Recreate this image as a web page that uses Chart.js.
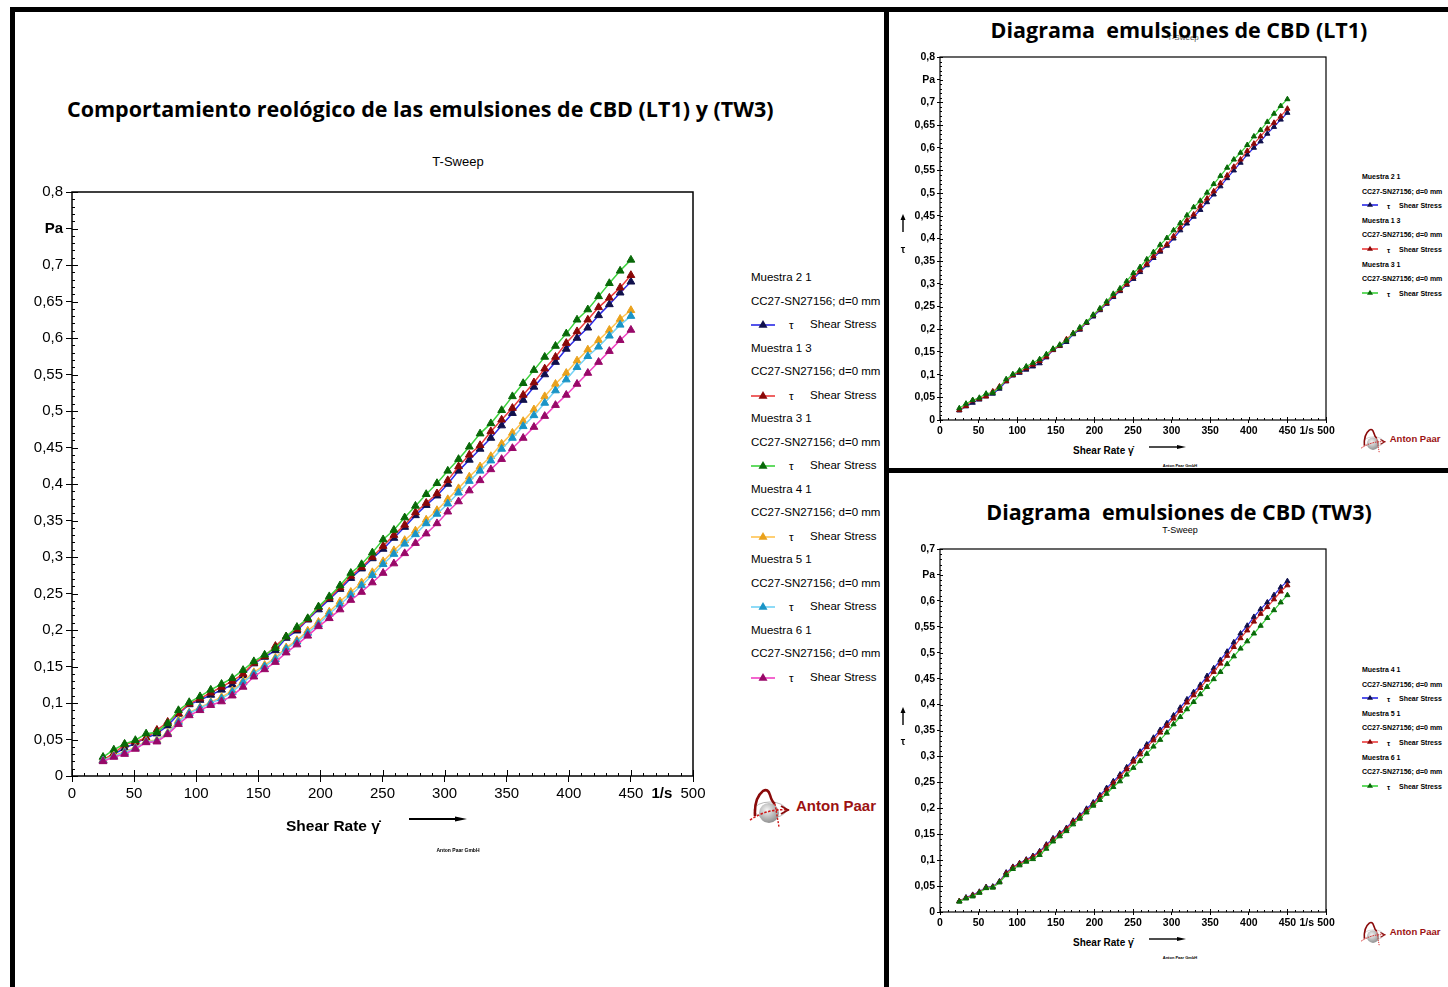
<!DOCTYPE html>
<html>
<head>
<meta charset="utf-8">
<title>Comportamiento reológico de las emulsiones de CBD</title>
<script src="https://cdn.jsdelivr.net/npm/chart.js"></script>
<style>
  body { margin: 0; width: 1448px; height: 987px; position: relative; overflow: hidden; background: #fff;
         font-family: "Liberation Sans", Arial, sans-serif; color: #000; }
  .bar { position: absolute; background: #000; }
  .t { position: absolute; white-space: nowrap; line-height: 1; }
  .title { font-family: "Open Sans", sans-serif; font-weight: bold; font-size: 21.5px; }
  .c { transform: translate(-50%, -50%); }
  .l { transform: translateY(-50%); }
  canvas { position: absolute; }
  svg { position: absolute; overflow: visible; }
</style>
</head>
<body>
<div class="bar" style="left:10px;top:7px;width:1438px;height:5px"></div>
<div class="bar" style="left:10px;top:7px;width:5px;height:980px"></div>
<div class="bar" style="left:884px;top:7px;width:5px;height:980px"></div>
<div class="bar" style="left:884px;top:468px;width:564px;height:5px"></div>

<div class="t title l" style="left:67px;top:109px">Comportamiento reológico de las emulsiones de CBD (LT1) y (TW3)</div>
<div class="t c" style="left:458px;top:161px;font-size:13px">T-Sweep</div>
<div class="t c" style="left:1183px;top:38px;font-size:8px;color:#555">T-Sweep</div>
<div class="t title c" style="left:1179px;top:30px">Diagrama&nbsp; emulsiones de CBD (LT1)</div>
<div class="t title c" style="left:1179px;top:512px">Diagrama&nbsp; emulsiones de CBD (TW3)</div>
<div class="t c" style="left:1180px;top:530px;font-size:9px">T-Sweep</div>

<canvas id="mainChart" width="700" height="640" style="left:15px;top:180px"></canvas>
<canvas id="lt1Chart" width="445" height="395" style="left:895px;top:45px"></canvas>
<canvas id="tw3Chart" width="445" height="395" style="left:895px;top:537px"></canvas>

<div id="extras"></div>

<script>
// shear rate (1/s) of the 50 measuring points
const shearRate = [25, 33.67, 42.35, 51.02, 59.69, 68.37, 77.04, 85.71, 94.39, 103.06,
  111.73, 120.41, 129.08, 137.76, 146.43, 155.1, 163.78, 172.45, 181.12, 189.8,
  198.47, 207.14, 215.82, 224.49, 233.16, 241.84, 250.51, 259.18, 267.86, 276.53,
  285.2, 293.88, 302.55, 311.22, 319.9, 328.57, 337.24, 345.92, 354.59, 363.27,
  371.94, 380.61, 389.29, 397.96, 406.63, 415.31, 423.98, 432.65, 441.33, 450];

// shear stress (Pa)
const muestra21 = [0.021, 0.030, 0.038, 0.045, 0.052, 0.058, 0.069, 0.085, 0.098, 0.104,
  0.111, 0.118, 0.125, 0.138, 0.154, 0.163, 0.172, 0.189, 0.199, 0.214,
  0.228, 0.242, 0.256, 0.271, 0.284, 0.298, 0.311, 0.326, 0.341, 0.357,
  0.371, 0.384, 0.400, 0.418, 0.433, 0.448, 0.463, 0.480, 0.497, 0.515,
  0.533, 0.550, 0.567, 0.585, 0.600, 0.614, 0.631, 0.646, 0.662, 0.677];
const muestra13 = [0.022, 0.031, 0.043, 0.047, 0.052, 0.063, 0.074, 0.086, 0.099, 0.106,
  0.114, 0.122, 0.130, 0.140, 0.155, 0.164, 0.178, 0.191, 0.201, 0.215,
  0.231, 0.244, 0.258, 0.274, 0.286, 0.300, 0.315, 0.330, 0.344, 0.361,
  0.374, 0.387, 0.405, 0.424, 0.440, 0.453, 0.472, 0.488, 0.504, 0.522,
  0.539, 0.558, 0.574, 0.593, 0.609, 0.625, 0.642, 0.655, 0.669, 0.686];
const muestra31 = [0.026, 0.036, 0.044, 0.049, 0.058, 0.060, 0.072, 0.090, 0.101, 0.109,
  0.118, 0.126, 0.134, 0.145, 0.157, 0.166, 0.175, 0.191, 0.204, 0.216,
  0.232, 0.246, 0.261, 0.278, 0.290, 0.306, 0.324, 0.337, 0.354, 0.370,
  0.386, 0.401, 0.418, 0.434, 0.451, 0.469, 0.483, 0.501, 0.520, 0.538,
  0.556, 0.574, 0.589, 0.606, 0.625, 0.639, 0.657, 0.675, 0.692, 0.707];
const muestra41 = [0.021, 0.028, 0.033, 0.039, 0.048, 0.049, 0.059, 0.076, 0.087, 0.094,
  0.101, 0.108, 0.117, 0.130, 0.142, 0.152, 0.162, 0.176, 0.186, 0.199,
  0.211, 0.225, 0.239, 0.252, 0.265, 0.279, 0.294, 0.309, 0.323, 0.336,
  0.351, 0.364, 0.379, 0.394, 0.410, 0.424, 0.438, 0.455, 0.470, 0.486,
  0.502, 0.520, 0.537, 0.552, 0.569, 0.584, 0.597, 0.611, 0.626, 0.638];
const muestra51 = [0.021, 0.027, 0.032, 0.038, 0.047, 0.048, 0.058, 0.074, 0.086, 0.093,
  0.100, 0.106, 0.115, 0.128, 0.140, 0.150, 0.160, 0.174, 0.184, 0.196,
  0.208, 0.222, 0.235, 0.248, 0.261, 0.275, 0.290, 0.304, 0.318, 0.331,
  0.346, 0.359, 0.373, 0.388, 0.404, 0.418, 0.432, 0.448, 0.463, 0.479,
  0.494, 0.511, 0.528, 0.543, 0.560, 0.575, 0.588, 0.603, 0.618, 0.630];
const muestra61 = [0.020, 0.026, 0.030, 0.037, 0.046, 0.047, 0.057, 0.071, 0.083, 0.090,
  0.097, 0.102, 0.110, 0.122, 0.136, 0.146, 0.156, 0.169, 0.180, 0.192,
  0.205, 0.216, 0.228, 0.241, 0.252, 0.265, 0.278, 0.291, 0.305, 0.319,
  0.332, 0.346, 0.362, 0.376, 0.391, 0.405, 0.420, 0.434, 0.449, 0.463,
  0.478, 0.493, 0.508, 0.522, 0.537, 0.552, 0.567, 0.582, 0.597, 0.611];

const xTicks = [0, 50, 100, 150, 200, 250, 300, 350, 400, 450, 475, 500];
const xTickLabels = ['0', '50', '100', '150', '200', '250', '300', '350', '400', '450', '1/s', '500'];
const yTicksLT1 = [0, 0.05, 0.1, 0.15, 0.2, 0.25, 0.3, 0.35, 0.4, 0.45, 0.5, 0.55, 0.6, 0.65, 0.7, 0.75, 0.8];
const yTickLabelsLT1 = ['0', '0,05', '0,1', '0,15', '0,2', '0,25', '0,3', '0,35', '0,4', '0,45',
  '0,5', '0,55', '0,6', '0,65', '0,7', 'Pa', '0,8'];
const yTicksTW3 = [0, 0.05, 0.1, 0.15, 0.2, 0.25, 0.3, 0.35, 0.4, 0.45, 0.5, 0.55, 0.6, 0.65, 0.7];
const yTickLabelsTW3 = ['0', '0,05', '0,1', '0,15', '0,2', '0,25', '0,3', '0,35', '0,4', '0,45',
  '0,5', '0,55', '0,6', 'Pa', '0,7'];

const navy = { line: '#2a2ae6', point: '#10104c' };
const red = { line: '#ec3c3c', point: '#8a0808' };
const green = { line: '#3cd23c', point: '#086808' };
const orange = { line: '#ffc350', point: '#e9a11c' };
const sky = { line: '#72d2f6', point: '#1a94c6' };
const magenta = { line: '#f040c2', point: '#980868' };

const FONT = '"Liberation Sans", Arial, sans-serif';

// frame around the plot and the inner major / minor tick marks
const frameTicks = {
  id: 'frameTicks',
  afterDraw(chart, args, o) {
    const { ctx, chartArea: a, scales: { x, y } } = chart;
    ctx.save();
    ctx.strokeStyle = '#000';
    ctx.lineWidth = o.frame;
    ctx.strokeRect(a.left, a.top, a.right - a.left, a.bottom - a.top);
    ctx.lineWidth = 1;
    ctx.beginPath();
    for (let v = 0; v <= 500; v += 10) {
      const px = Math.round(x.getPixelForValue(v)) + 0.5;
      ctx.moveTo(px, a.bottom);
      ctx.lineTo(px, a.bottom - (v % 50 === 0 ? o.major : o.minor));
    }
    const n = Math.round(y.max * 100);
    for (let i = 0; i <= n; i++) {
      const py = Math.round(y.getPixelForValue(i / 100)) + 0.5;
      ctx.moveTo(a.left, py);
      ctx.lineTo(a.left + (i % 5 === 0 ? o.major : o.minor), py);
    }
    ctx.stroke();
    ctx.restore();
  }
};

function makeChart(id, series, yMax, yTicks, yLabels, s) {
  const datasets = series.map((d, i) => ({
    label: d.name,
    data: shearRate.map((x, k) => ({ x: x, y: d.values[k] })),
    borderColor: d.style.line,
    borderWidth: s.line,
    pointStyle: 'triangle',
    pointRadius: s.radius,
    pointBackgroundColor: d.style.point,
    pointBorderColor: d.style.point,
    pointBorderWidth: 1,
    order: series.length - i
  }));
  const tickFont = (size, boldIdx) => c => ({
    family: FONT, size: size,
    weight: (c.index === boldIdx || s.bold) ? 'bold' : 'normal'
  });
  return new Chart(document.getElementById(id), {
    type: 'line',
    data: { datasets },
    options: {
      responsive: false,
      animation: false,
      devicePixelRatio: 1,
      layout: { padding: { top: 12, right: s.padRight, left: 0, bottom: 0 } },
      plugins: { legend: { display: false }, tooltip: { enabled: false }, frameTicks: { frame: s.frame, major: s.tick, minor: s.minor } },
      scales: {
        x: {
          type: 'linear', min: 0, max: 500,
          afterBuildTicks: sc => { sc.ticks = xTicks.map(v => ({ value: v })); },
          afterFit: sc => { sc.height = s.xHeight; },
          ticks: { autoSkip: false, maxRotation: 0, padding: s.pad, color: '#000',
                   font: tickFont(s.font, xTicks.indexOf(475)),
                   callback: (v, i) => xTickLabels[i] },
          grid: { drawOnChartArea: false, tickLength: s.tick, lineWidth: 1,
                  color: c => (c.tick && c.tick.value === 475) ? 'rgba(0,0,0,0)' : '#000' },
          border: { display: false }
        },
        y: {
          type: 'linear', min: 0, max: yMax,
          afterBuildTicks: sc => { sc.ticks = yTicks.map(v => ({ value: v })); },
          afterFit: sc => { sc.width = s.yWidth; },
          ticks: { autoSkip: false, padding: s.pad, color: '#000',
                   font: tickFont(s.font, yLabels.indexOf('Pa')),
                   callback: (v, i) => yLabels[i] },
          grid: { drawOnChartArea: false, tickLength: s.tick, lineWidth: 1, color: '#000' },
          border: { display: false }
        }
      }
    },
    plugins: [frameTicks]
  });
}

const big = { line: 1.5, radius: 4.5, font: 15, bold: false, pad: 3, tick: 6, minor: 3, frame: 1.5,
              xHeight: 44, yWidth: 57, padRight: 22 };
const small = { line: 1.2, radius: 3, font: 10.5, bold: true, pad: 2, tick: 3, minor: 2, frame: 1.2,
                xHeight: 20, yWidth: 45, padRight: 14 };

const mainSeries = [
  { name: 'Muestra 2 1', values: muestra21, style: navy },
  { name: 'Muestra 1 3', values: muestra13, style: red },
  { name: 'Muestra 3 1', values: muestra31, style: green },
  { name: 'Muestra 4 1', values: muestra41, style: orange },
  { name: 'Muestra 5 1', values: muestra51, style: sky },
  { name: 'Muestra 6 1', values: muestra61, style: magenta }
];
const lt1Series = [
  { name: 'Muestra 2 1', values: muestra21, style: navy },
  { name: 'Muestra 1 3', values: muestra13, style: red },
  { name: 'Muestra 3 1', values: muestra31, style: green }
];
const tw3Series = [
  { name: 'Muestra 4 1', values: muestra41, style: navy },
  { name: 'Muestra 5 1', values: muestra51, style: red },
  { name: 'Muestra 6 1', values: muestra61, style: green }
];

makeChart('mainChart', mainSeries, 0.8, yTicksLT1, yTickLabelsLT1, big);
makeChart('lt1Chart', lt1Series, 0.8, yTicksLT1, yTickLabelsLT1, small);
makeChart('tw3Chart', tw3Series, 0.7, yTicksTW3, yTickLabelsTW3, small);

// texts and decorations around the plots
const extras = document.getElementById('extras');
function text(str, x, y, css, cls) {
  const d = document.createElement('div');
  d.className = 't ' + (cls || 'l');
  d.textContent = str;
  d.style.cssText = 'left:' + x + 'px;top:' + y + 'px;' + (css || '');
  extras.appendChild(d);
}
function svg(x, y, w, h, inner) {
  const el = document.createElementNS('http://www.w3.org/2000/svg', 'svg');
  el.setAttribute('width', w); el.setAttribute('height', h);
  el.setAttribute('viewBox', '0 0 ' + w + ' ' + h);
  el.style.left = x + 'px'; el.style.top = y + 'px';
  el.innerHTML = inner;
  extras.appendChild(el);
}
function symbol(x, y, w, st, tri) {
  const m = w / 2;
  svg(x, y - 6, w, 12,
    '<line x1="0" y1="6" x2="' + w + '" y2="6" stroke="' + st.line + '" stroke-width="1.6"/>' +
    '<polygon points="' + (m - tri) + ',' + (6 + tri * 0.6) + ' ' + (m + tri) + ',' + (6 + tri * 0.6) + ' ' + m + ',' + (6 - tri * 1.1) + '" fill="' + st.point + '"/>');
}
function legend(series, x, y0, step, sz, st) {
  series.forEach((d, i) => {
    const y = y0 + i * step * 3;
    text(d.name, x, y, 'font-size:' + sz + 'px;' + st.weight);
    text('CC27-SN27156; d=0 mm', x, y + step, 'font-size:' + sz + 'px;' + st.weight);
    symbol(x, y + 2 * step, st.symW, d.style, st.tri);
    text('τ', x + st.tauX, y + 2 * step + 1, 'font-size:' + sz + 'px;' + st.weight);
    text('Shear Stress', x + st.ssX, y + 2 * step, 'font-size:' + sz + 'px;' + st.weight);
  });
}
function logo(x, y, s, fs) {
  svg(x, y, 44 * s, 42 * s,
    '<defs><radialGradient id="g' + x + y + '" cx="0.4" cy="0.35" r="0.7">' +
    '<stop offset="0" stop-color="#f4f4f4"/><stop offset="1" stop-color="#8a8a8a"/></radialGradient></defs>' +
    '<g transform="scale(' + s + ')">' +
    '<ellipse cx="22" cy="24" rx="16" ry="8" fill="none" stroke="#b8b8b8" stroke-width="1"/>' +
    '<circle cx="21" cy="27" r="10" fill="url(#g' + x + y + ')"/>' +
    '<path d="M7 30 Q6 12 15 5 Q20 2 22 9 Q24 16 27 18" fill="none" stroke="#8a0a0a" stroke-width="2.6"/>' +
    '<path d="M2 34 Q20 22 41 24" fill="none" stroke="#d01818" stroke-width="1.6" stroke-dasharray="2.5 1.5"/>' +
    '<path d="M27 18 L31 41" fill="none" stroke="#d01818" stroke-width="1.4" stroke-dasharray="2 1.5"/>' +
    '<path d="M33 20 L40 24 L33 28" fill="none" stroke="#8a0a0a" stroke-width="1.8"/>' +
    '</g>');
  text('Anton Paar', x + 48 * s, y + 19 * s, 'font-size:' + fs + 'px;font-weight:bold;color:#9c1212');
}
function arrow(x1, x2, y, w, head) {
  svg(x1, y - head, x2 - x1, head * 2,
    '<line x1="0" y1="' + head + '" x2="' + (x2 - x1 - head * 2) + '" y2="' + head + '" stroke="#000" stroke-width="' + w + '"/>' +
    '<polygon points="' + (x2 - x1 - head * 3) + ',' + (head * 0.35) + ' ' + (x2 - x1) + ',' + head + ' ' + (x2 - x1 - head * 3) + ',' + (head * 1.65) + '" fill="#000"/>');
}
function upArrow(x, y1, y2) {
  svg(x - 3, y2, 6, y1 - y2,
    '<line x1="3" y1="' + (y1 - y2) + '" x2="3" y2="5" stroke="#000" stroke-width="1.4"/>' +
    '<polygon points="0.5,6 3,0 5.5,6" fill="#000"/>');
}

// main chart
legend(mainSeries, 751, 278, 23.5, 11.5, { weight: '', symW: 24, tri: 4.5, tauX: 38, ssX: 59 });
text('Shear Rate γ̇', 286, 826, 'font-size:15.5px;font-weight:bold');
arrow(409, 467, 819, 2, 4);
text('Anton Paar GmbH', 458, 850, 'font-size:5px;font-weight:bold', 'c');
logo(748, 786, 1, 15);

// LT1 chart
legend(lt1Series, 1362, 176, 14.6, 7, { weight: 'font-weight:bold', symW: 16, tri: 3, tauX: 25, ssX: 37 });
text('Shear Rate γ̇', 1073, 451, 'font-size:10px;font-weight:bold');
arrow(1149, 1186, 447, 1.4, 3);
upArrow(903, 232, 214);
text('τ', 903, 250, 'font-size:10px;font-weight:bold', 'c');
text('Anton Paar GmbH', 1180, 466, 'font-size:4px;font-weight:bold', 'c');
logo(1360, 427, 0.62, 9.5);

// TW3 chart
legend(tw3Series, 1362, 669, 14.6, 7, { weight: 'font-weight:bold', symW: 16, tri: 3, tauX: 25, ssX: 37 });
text('Shear Rate γ̇', 1073, 943, 'font-size:10px;font-weight:bold');
arrow(1149, 1186, 939, 1.4, 3);
upArrow(903, 725, 707);
text('τ', 903, 742, 'font-size:10px;font-weight:bold', 'c');
text('Anton Paar GmbH', 1180, 958, 'font-size:4px;font-weight:bold', 'c');
logo(1360, 920, 0.62, 9.5);
</script>
</body>
</html>
